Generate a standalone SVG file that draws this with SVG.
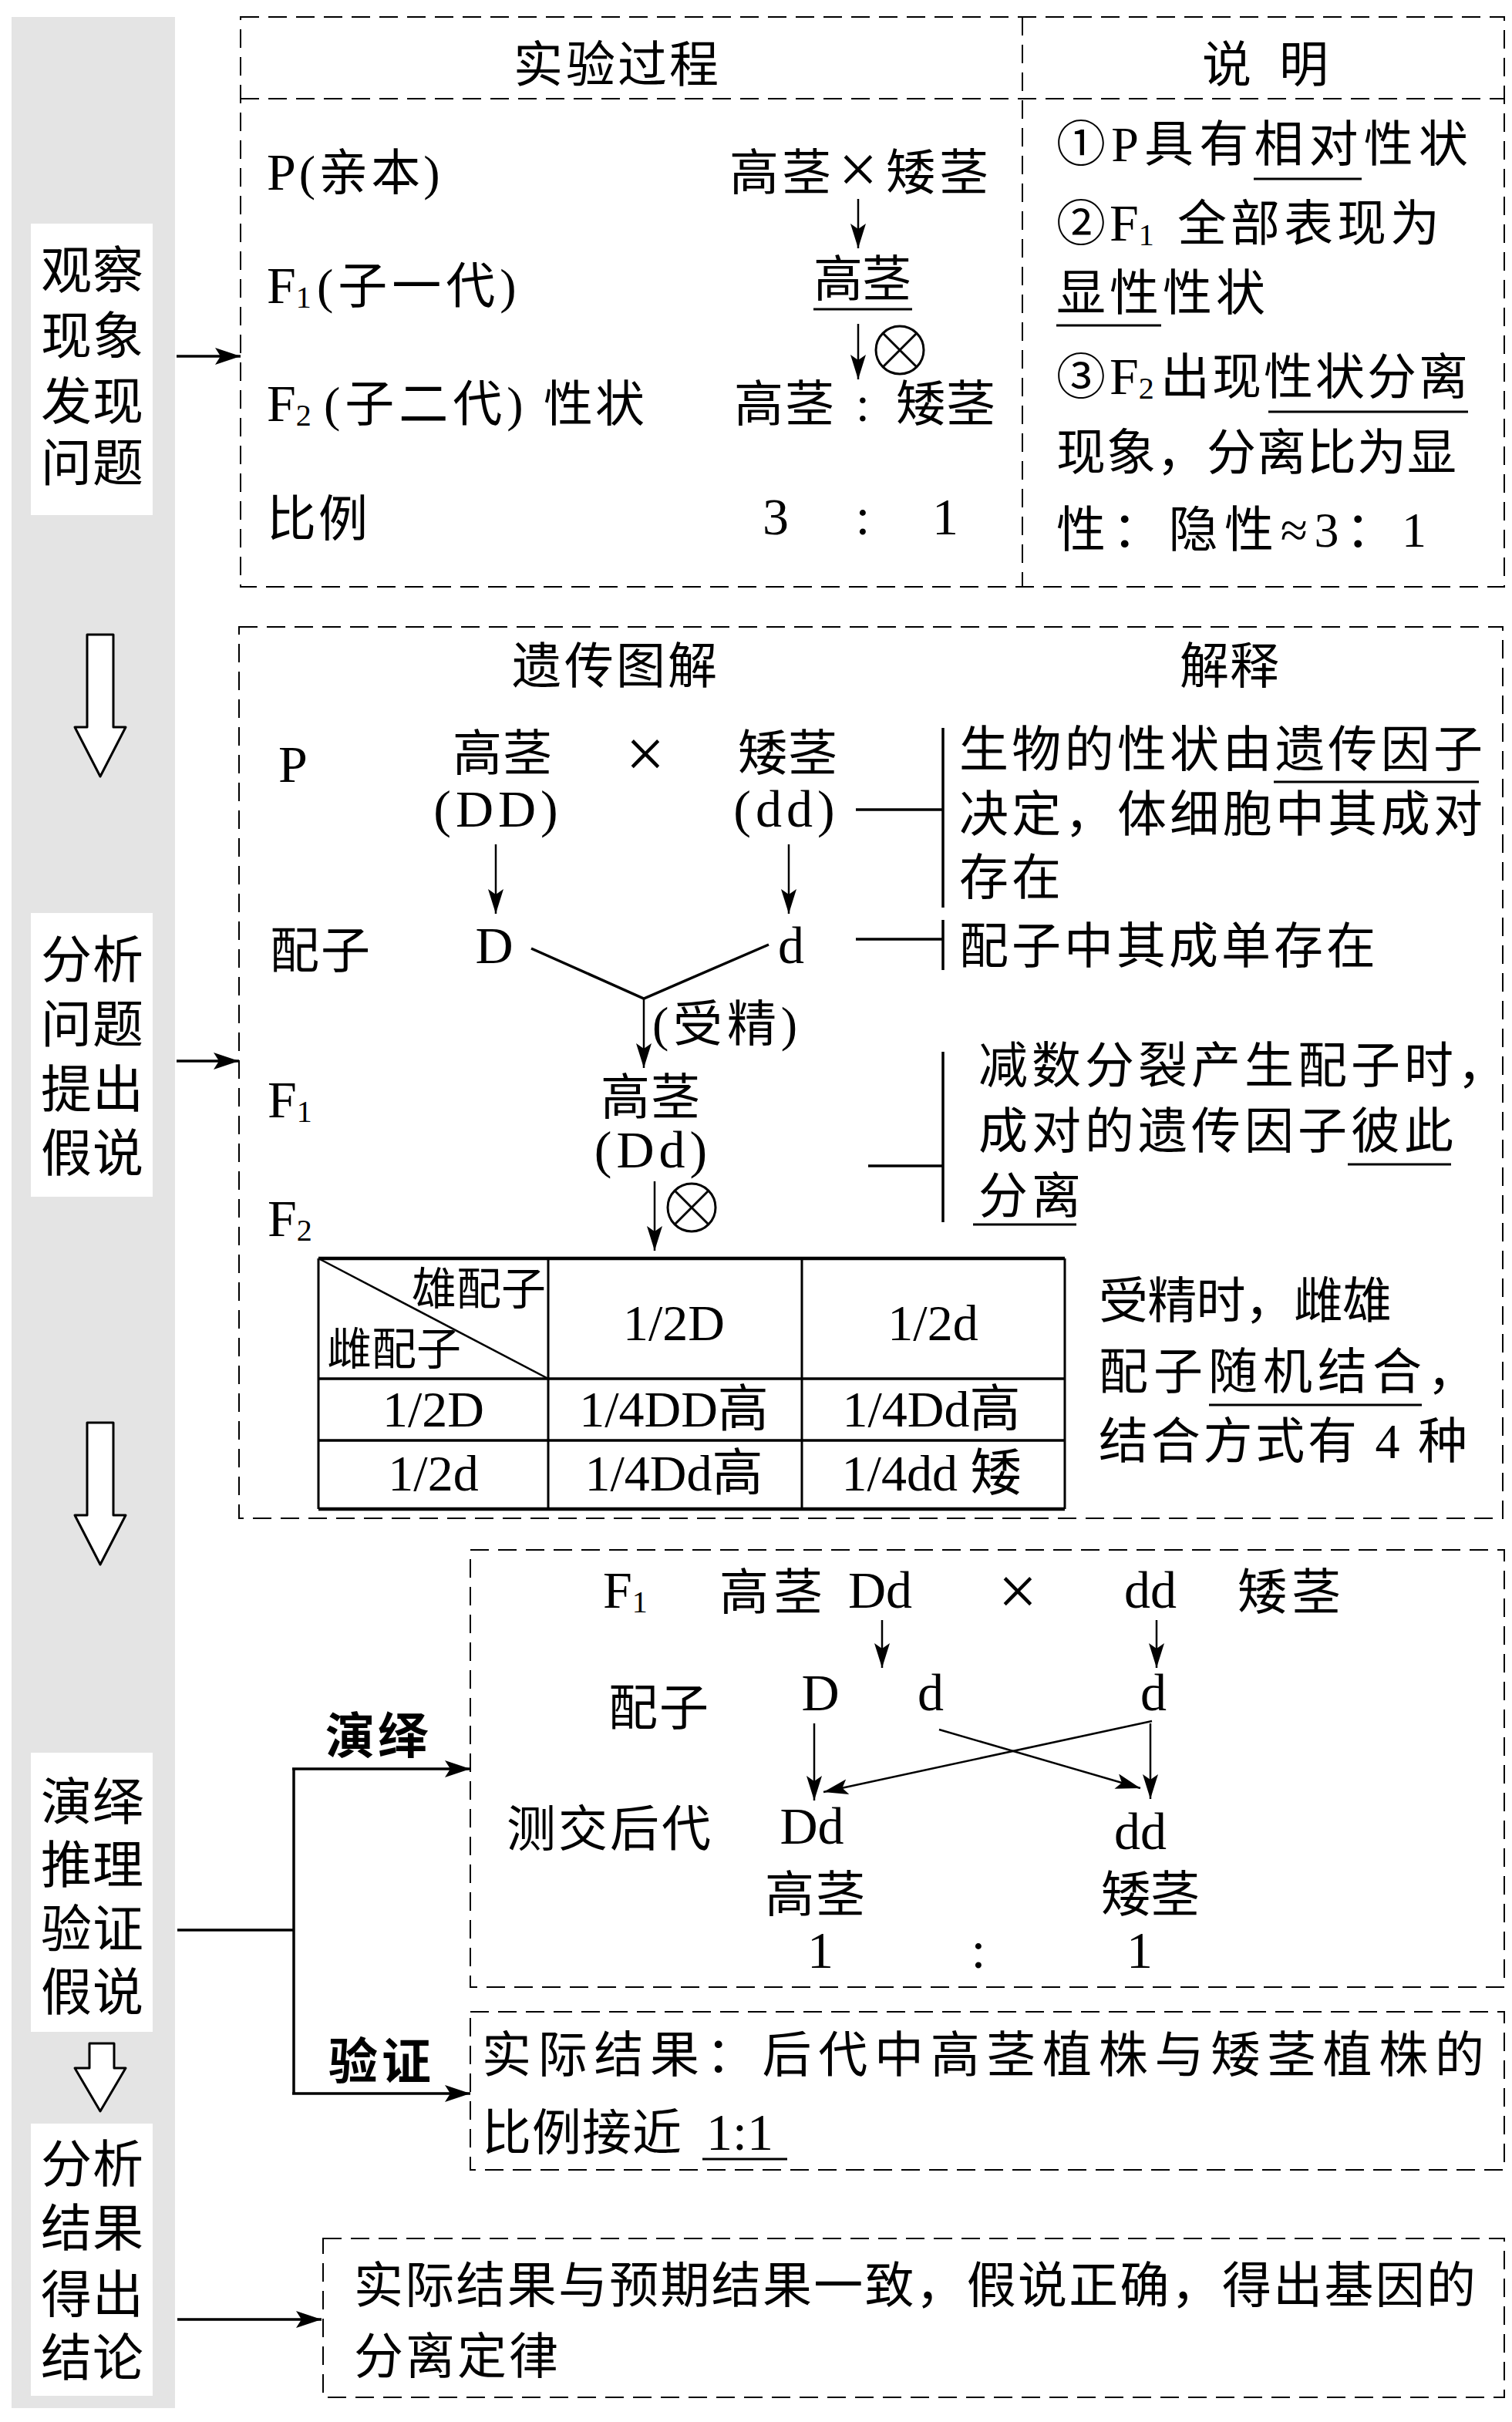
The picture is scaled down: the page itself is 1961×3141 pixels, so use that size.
<svg xmlns="http://www.w3.org/2000/svg" width="1961" height="3141" viewBox="0 0 1961 3141">
<style>
.t{font-family:'Liberation Serif','Noto Sans CJK SC',serif;font-size:64px;fill:#000}
.L{font-size:68px}
.S{font-size:40px}
.X{font-size:90px}
.lbl{font-size:66px;text-anchor:middle}
.m{text-anchor:middle}
.b{font-weight:bold}
.dash{fill:none;stroke:#000;stroke-width:2;stroke-dasharray:24 12}
.ln{stroke:#000;stroke-width:2.5;fill:none}
.cn{stroke:#000;stroke-width:3.5;fill:none}
.ul{stroke:#000;stroke-width:3}
.ox{fill:none;stroke:#000;stroke-width:3}
.hol{fill:#fff;stroke:#000;stroke-width:3;stroke-linejoin:round}
.tb{stroke:#000;fill:none}
</style>
<defs>
<marker id="ah" markerUnits="userSpaceOnUse" markerWidth="36" markerHeight="24" refX="33" refY="11" orient="auto"><path d="M0,0 L33,11 L0,22 L7,11 Z" fill="#000"/></marker>
<marker id="as" markerUnits="userSpaceOnUse" markerWidth="34" markerHeight="22" refX="32" refY="10" orient="auto"><path d="M0,0 L32,10 L0,20 L7,10 Z" fill="#000"/></marker>
<g id="otimes"><circle class="ox" cx="0" cy="0" r="31"/><path class="ox" d="M-22,-22 L22,22 M22,-22 L-22,22"/></g>
</defs>
<rect width="1961" height="3141" fill="#fff"/>

<!-- left gray band -->
<g id="band">
<rect x="15" y="22" width="212" height="3101" fill="#e4e4e4"/>
<path class="hol" d="M113,823 H147 V943 H163 L130,1007 L97,943 H113 Z"/>
<path class="hol" d="M113,1845 H147 V1965 H163 L130,2029 L97,1965 H113 Z"/>
<path class="hol" d="M116,2650 H148 V2682 H163 L130,2738 L97,2682 H116 Z"/>
</g>

<g id="label1">
<rect x="40" y="290" width="158" height="378" fill="#fff"/>
<text class="t lbl" x="86 153" y="374">观察</text>
<text class="t lbl" x="86 153" y="459">现象</text>
<text class="t lbl" x="86 153" y="544">发现</text>
<text class="t lbl" x="86 153" y="624">问题</text>
</g>
<g id="label2">
<rect x="40" y="1184" width="158" height="368" fill="#fff"/>
<text class="t lbl" x="86 153" y="1268">分析</text>
<text class="t lbl" x="86 153" y="1352">问题</text>
<text class="t lbl" x="86 153" y="1436">提出</text>
<text class="t lbl" x="86 153" y="1519">假说</text>
</g>
<g id="label3">
<rect x="40" y="2273" width="158" height="362" fill="#fff"/>
<text class="t lbl" x="86 153" y="2360">演绎</text>
<text class="t lbl" x="86 153" y="2442">推理</text>
<text class="t lbl" x="86 153" y="2525">验证</text>
<text class="t lbl" x="86 153" y="2607">假说</text>
</g>
<g id="label4">
<rect x="40" y="2754" width="158" height="353" fill="#fff"/>
<text class="t lbl" x="86 153" y="2830">分析</text>
<text class="t lbl" x="86 153" y="2913">结果</text>
<text class="t lbl" x="86 153" y="2999">得出</text>
<text class="t lbl" x="86 153" y="3081">结论</text>
</g>

<!-- box 1 -->
<g id="box1">
<rect class="dash" x="312" y="22" width="1639" height="739"/>
<line class="dash" x1="312" y1="128" x2="1951" y2="128"/>
<line class="dash" x1="1326" y1="22" x2="1326" y2="761"/>
<text class="t m" x="698 766 833 900" y="106">实验过程</text>
<text class="t m" x="1591 1691" y="106">说明</text>
<text class="t" x="346" y="246" letter-spacing="4"><tspan class="L">P</tspan>(亲本)</text>
<text class="t" x="346" y="393"><tspan class="L">F</tspan><tspan class="S" dy="6">1</tspan><tspan x="411" dy="-6" letter-spacing="6">(子一代)</tspan></text>
<text class="t" x="346" y="546"><tspan class="L">F</tspan><tspan class="S" dy="6">2</tspan><tspan x="420" dy="-6" letter-spacing="6">(子二代)</tspan><tspan x="705" letter-spacing="3">性状</tspan></text>
<text class="t" x="346" y="695" letter-spacing="3">比例</text>
<text class="t m" x="978 1046" y="246">高茎</text>
<text class="t m X" x="1113" y="250">×</text>
<text class="t m" x="1181 1250" y="246">矮茎</text>
<text class="t m" x="1087 1150" y="384">高茎</text>
<line class="ul" x1="1055" y1="401" x2="1183" y2="401"/>
<use href="#otimes" x="1167" y="454"/>
<text class="t m" x="984 1050 1119 1194 1259" y="546">高茎:矮茎</text>
<text class="t m L" x="1006 1119 1226" y="693">3:1</text>
<text class="t" x="1370" y="209" textLength="534" lengthAdjust="spacing">①P具有相对性状</text>
<line class="ul" x1="1626" y1="232" x2="1766" y2="232"/>
<text class="t" x="1370" y="312">②<tspan class="L" x="1439">F</tspan><tspan class="S" dy="6">1</tspan><tspan x="1527" dy="-6" letter-spacing="5">全部表现为</tspan></text>
<text class="t" x="1370" y="402" letter-spacing="5">显性性状</text>
<line class="ul" x1="1370" y1="422" x2="1506" y2="422"/>
<text class="t" x="1370" y="511">③<tspan class="L" x="1439">F</tspan><tspan class="S" dy="6">2</tspan><tspan x="1505" dy="-6" letter-spacing="3">出现性状分离</tspan></text>
<line class="ul" x1="1645" y1="534" x2="1904" y2="534"/>
<text class="t" x="1370" y="609" letter-spacing="1">现象，分离比为显</text>
<text class="t" x="1370" y="709" textLength="480" lengthAdjust="spacing">性：隐性≈3：1</text>
</g>

<!-- box 2 -->
<g id="box2">
<rect class="dash" x="310" y="813" width="1639" height="1156"/>
<text class="t m" x="696 764 831 898" y="886">遗传图解</text>
<text class="t m" x="1562 1627" y="886">解释</text>
<text class="t L" x="361" y="1014">P</text>
<text class="t m" x="619 684" y="999">高茎</text>
<text class="t m X" x="837" y="1008">×</text>
<text class="t m" x="989 1054" y="999">矮茎</text>
<text class="t m L" x="646" y="1072" letter-spacing="6">(DD)</text>
<text class="t m L" x="1020" y="1072" letter-spacing="6">(dd)</text>
<text class="t" x="1244" y="994" textLength="679" lengthAdjust="spacing">生物的性状由遗传因子</text>
<line class="ul" x1="1652" y1="1014" x2="1918" y2="1014"/>
<text class="t" x="1244" y="1078" textLength="679" lengthAdjust="spacing">决定，体细胞中其成对</text>
<text class="t" x="1244" y="1160" letter-spacing="4">存在</text>
<text class="t" x="350" y="1255" letter-spacing="2">配子</text>
<text class="t m L" x="641" y="1249">D</text>
<text class="t m L" x="1026" y="1249">d</text>
<text class="t" x="1244" y="1249" letter-spacing="4">配子中其成单存在</text>
<text class="t" x="846" y="1350" textLength="188" lengthAdjust="spacing">(受精)</text>
<text class="t" x="347" y="1449"><tspan class="L">F</tspan><tspan class="S" dy="6">1</tspan></text>
<text class="t m" x="811 876" y="1445">高茎</text>
<text class="t m L" x="847" y="1514" letter-spacing="6">(Dd)</text>
<text class="t" x="1269" y="1404" letter-spacing="5">减数分裂产生配子时，</text>
<text class="t" x="1269" y="1489" letter-spacing="5">成对的遗传因子彼此</text>
<line class="ul" x1="1748" y1="1510" x2="1882" y2="1510"/>
<text class="t" x="1269" y="1573" letter-spacing="5">分离</text>
<line class="ul" x1="1262" y1="1588" x2="1396" y2="1588"/>
<text class="t" x="347" y="1603"><tspan class="L">F</tspan><tspan class="S" dy="6">2</tspan></text>
<use href="#otimes" x="897" y="1566"/>
<text class="t" x="1425" y="1709" textLength="380" lengthAdjust="spacing">受精时，雌雄</text>
<text class="t" x="1425" y="1801" letter-spacing="7">配子随机结合，</text>
<line class="ul" x1="1568" y1="1822" x2="1844" y2="1822"/>
<text class="t" x="1425" y="1891" textLength="478" lengthAdjust="spacing">结合方式有 4 种</text>
</g>

<!-- F2 table -->
<g id="table">
<line class="tb" stroke-width="4.5" x1="413" y1="1632" x2="1381" y2="1632"/>
<line class="tb" stroke-width="4.5" x1="413" y1="1957" x2="1381" y2="1957"/>
<line class="tb" stroke-width="3.5" x1="413" y1="1788" x2="1381" y2="1788"/>
<line class="tb" stroke-width="3.5" x1="413" y1="1868" x2="1381" y2="1868"/>
<line class="tb" stroke-width="3" x1="413" y1="1632" x2="413" y2="1957"/>
<line class="tb" stroke-width="3" x1="1381" y1="1632" x2="1381" y2="1957"/>
<line class="tb" stroke-width="3" x1="711" y1="1632" x2="711" y2="1957"/>
<line class="tb" stroke-width="3" x1="1040" y1="1632" x2="1040" y2="1957"/>
<line class="tb" stroke-width="2.5" x1="413" y1="1632" x2="711" y2="1788"/>
<text class="t m" style="font-size:58px" x="563 621 679" y="1692">雄配子</text>
<text class="t m" style="font-size:58px" x="453 511 569" y="1770">雌配子</text>
<text class="t m" style="font-size:66px" x="874" y="1738">1/2D</text>
<text class="t m" style="font-size:66px" x="1210" y="1738">1/2d</text>
<text class="t m" style="font-size:66px" x="562" y="1850">1/2D</text>
<text class="t m" style="font-size:66px" x="874" y="1850">1/4DD高</text>
<text class="t m" style="font-size:66px" x="1208" y="1850">1/4Dd高</text>
<text class="t m" style="font-size:66px" x="562" y="1933">1/2d</text>
<text class="t m" style="font-size:66px" x="874" y="1933">1/4Dd高</text>
<text class="t m" style="font-size:66px" x="1208" y="1933">1/4dd 矮</text>
</g>

<!-- box 3 -->
<g id="box3">
<rect class="dash" x="610" y="2010" width="1341" height="567"/>
<text class="t" x="782" y="2085"><tspan class="L">F</tspan><tspan class="S" dy="6">1</tspan></text>
<text class="t m" x="965 1035" y="2087">高茎</text>
<text class="t L" x="1100" y="2085">Dd</text>
<text class="t m X" x="1320" y="2094">×</text>
<text class="t L" x="1458" y="2085">dd</text>
<text class="t m" x="1637 1707" y="2087">矮茎</text>
<text class="t" x="789" y="2237" letter-spacing="2">配子</text>
<text class="t m L" x="1064" y="2218">D</text>
<text class="t m L" x="1207" y="2218">d</text>
<text class="t m L" x="1496" y="2218">d</text>
<text class="t" x="657" y="2394" letter-spacing="3">测交后代</text>
<text class="t m L" x="1053" y="2391">Dd</text>
<text class="t m L" x="1479" y="2398">dd</text>
<text class="t m" x="1024 1090" y="2479">高茎</text>
<text class="t m" x="1460 1524" y="2479">矮茎</text>
<text class="t m L" x="1064 1269 1478" y="2552">1:1</text>
</g>

<g id="box4">
<rect class="dash" x="610" y="2609" width="1341" height="205"/>
<text class="t" x="625" y="2687" textLength="1300" lengthAdjust="spacing">实际结果：后代中高茎植株与矮茎植株的</text>
<text class="t" x="625" y="2788" letter-spacing="1">比例接近 <tspan class="L" x="916" letter-spacing="0">1:1</tspan></text>
<line class="ul" x1="911" y1="2800" x2="1021" y2="2800"/>
</g>

<g id="box5">
<rect class="dash" x="419" y="2903" width="1532" height="206"/>
<text class="t" x="459" y="2986" textLength="1455" lengthAdjust="spacing">实际结果与预期结果一致，假说正确，得出基因的</text>
<text class="t" x="459" y="3078" letter-spacing="3">分离定律</text>
</g>

<g id="edgelabels">
<text class="t m b" x="454 522" y="2274">演绎</text>
<text class="t m b" x="458 527" y="2696">验证</text>
</g>

<!-- connectors -->
<g id="connectors">
<line class="cn" x1="229" y1="462" x2="312" y2="462" marker-end="url(#ah)"/>
<line class="cn" x1="229" y1="1376" x2="310" y2="1376" marker-end="url(#ah)"/>
<polyline class="cn" points="230,2503 381,2503"/>
<polyline class="cn" points="381,2294 381,2715"/>
<line class="cn" x1="379" y1="2294" x2="610" y2="2294" marker-end="url(#ah)"/>
<line class="cn" x1="379" y1="2715" x2="610" y2="2715" marker-end="url(#ah)"/>
<line class="cn" x1="230" y1="3008" x2="417" y2="3008" marker-end="url(#ah)"/>
<line class="ln" x1="1113" y1="258" x2="1113" y2="322" marker-end="url(#as)"/>
<line class="ln" x1="1113" y1="420" x2="1113" y2="492" marker-end="url(#as)"/>
<line class="ln" x1="643" y1="1095" x2="643" y2="1185" marker-end="url(#as)"/>
<line class="ln" x1="1023" y1="1095" x2="1023" y2="1185" marker-end="url(#as)"/>
<line class="cn" x1="1110" y1="1050" x2="1223" y2="1050"/>
<line class="cn" x1="1223" y1="944" x2="1223" y2="1177"/>
<line class="cn" x1="1110" y1="1218" x2="1223" y2="1218"/>
<line class="cn" x1="1223" y1="1193" x2="1223" y2="1258"/>
<polyline class="cn" points="689,1230 835,1295 997,1225"/>
<line class="ln" x1="835" y1="1295" x2="835" y2="1385" marker-end="url(#as)"/>
<line class="cn" x1="1126" y1="1512" x2="1223" y2="1512"/>
<line class="cn" x1="1223" y1="1364" x2="1223" y2="1585"/>
<line class="ln" x1="849" y1="1532" x2="849" y2="1622" marker-end="url(#as)"/>
<line class="ln" x1="1144" y1="2101" x2="1144" y2="2163" marker-end="url(#as)"/>
<line class="ln" x1="1500" y1="2101" x2="1500" y2="2163" marker-end="url(#as)"/>
<line class="ln" x1="1056" y1="2235" x2="1056" y2="2335" marker-end="url(#as)"/>
<line class="ln" x1="1492" y1="2235" x2="1492" y2="2333" marker-end="url(#as)"/>
<line class="ln" x1="1494" y1="2232" x2="1068" y2="2324" marker-end="url(#as)"/>
<line class="ln" x1="1218" y1="2243" x2="1479" y2="2319" marker-end="url(#as)"/>
</g>
</svg>
